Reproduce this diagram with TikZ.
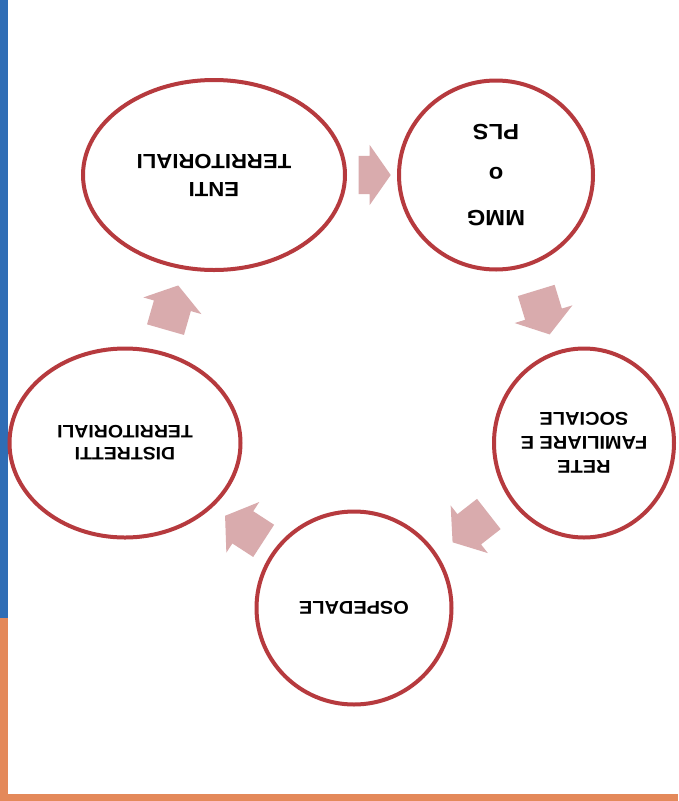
\documentclass[tikz,border=0pt]{standalone}
\usepackage{fontspec}
\setmainfont{Liberation Sans}[FakeStretch=1.08]
\usetikzlibrary{shapes.geometric,shapes.arrows}

\definecolor{ringred}{HTML}{B63A3E}
\definecolor{arrowpink}{HTML}{D9ABAD}
\definecolor{barblue}{HTML}{2F6DB5}
\definecolor{barorange}{HTML}{E4895A}

\tikzset{
  cyclenode/.style={ellipse, draw=ringred, line width=4pt, fill=white, rotate=180, align=center, inner sep=0pt},
  cyclearrow/.style={single arrow, fill=arrowpink, draw=none, inner xsep=0pt, inner ysep=19pt, minimum height=46pt, single arrow head extend=11pt, single arrow tip angle=110}
}

\begin{document}
\begin{tikzpicture}[x=1pt,y=-1pt]

\useasboundingbox (0,0) rectangle (678,801);
\fill[white] (0,0) rectangle (678,801);
\fill[barblue] (0,0) rectangle (8,618);
\fill[barorange] (0,618) rectangle (8,801);
\fill[barorange] (0,794) rectangle (678,801);

\node[cyclenode, minimum width=262pt, minimum height=190pt, font=\bfseries\fontsize{20.5}{28}\selectfont] (enti) at (214,175) {ENTI\\TERRITORIALI};
\node[cyclenode, minimum width=194pt, minimum height=189pt, font=\bfseries\fontsize{22}{43}\selectfont] (mmg) at (496,175) {MMG\\o\\PLS};
\node[cyclenode, minimum width=180pt, minimum height=189pt, font=\bfseries\fontsize{18.5}{24}\selectfont] (rete) at (584,443) {RETE\\FAMILIARE E\\SOCIALE};
\node[cyclenode, minimum width=195pt, minimum height=193pt, font=\bfseries\fontsize{18.5}{24}\selectfont] (ospedale) at (354,608) {OSPEDALE};
\node[cyclenode, minimum width=231pt, minimum height=189pt, font=\bfseries\fontsize{18}{22}\selectfont] (distretti) at (125,443) {DISTRETTI\\TERRITORIALI};

\node[cyclearrow, minimum height=32pt, rotate=0] (a1) at (368,175) {};
\node[cyclearrow, rotate=-73] (a2) at (541,306) {};
\node[cyclearrow, rotate=-142] (a3) at (476,524) {};
\node[cyclearrow, rotate=147] (a4) at (250,532) {};
\node[cyclearrow, rotate=74] (a5) at (170,314) {};

\end{tikzpicture}
\end{document}
